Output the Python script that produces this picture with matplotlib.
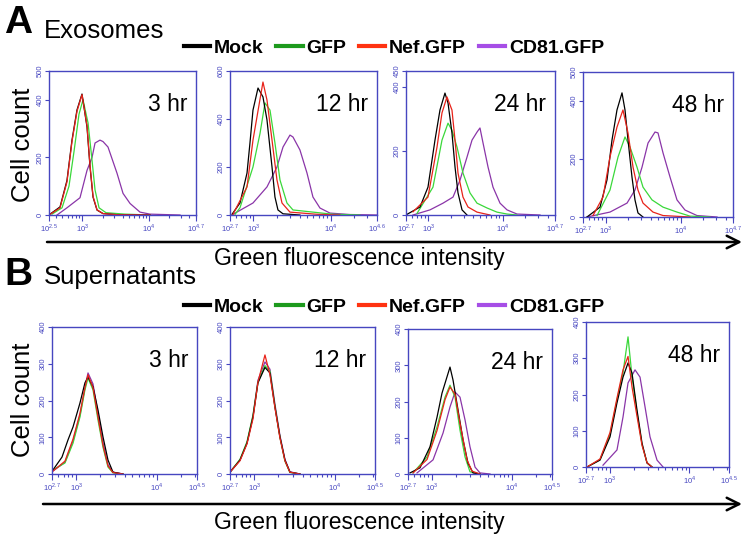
import numpy as np
import matplotlib
matplotlib.use("Agg")
import matplotlib.pyplot as plt
from matplotlib.lines import Line2D
from matplotlib.ticker import FixedLocator, LogLocator, NullFormatter

plt.rcParams["font.family"] = ["Liberation Sans", "DejaVu Sans"]
plt.rcParams["mathtext.fontset"] = "custom"
plt.rcParams["mathtext.rm"] = "Liberation Sans"

# ============================
# data: x = log10 green fluorescence, y = cell count
# ============================
series_names = ["Mock", "GFP", "Nef.GFP", "CD81.GFP"]
time_labels = ["3 hr", "12 hr", "24 hr", "48 hr"]

# --- A. Exosomes ---
exo3_mock_x = [2.515, 2.665, 2.769, 2.844, 2.919, 2.994, 3.069, 3.114, 3.159, 3.219, 3.308, 3.518, 4.012]
exo3_mock_y = [3, 28, 120, 260, 365, 420, 305, 167, 62, 17, 5, 1, 0]
exo3_gfp_x = [2.545, 2.695, 2.799, 2.874, 2.949, 3.009, 3.084, 3.144, 3.189, 3.249, 3.353, 3.638, 4.012]
exo3_gfp_y = [3, 25, 100, 220, 350, 400, 320, 190, 87, 25, 8, 3, 0]
exo3_nef_x = [2.515, 2.665, 2.769, 2.844, 2.919, 2.994, 3.069, 3.114, 3.159, 3.219, 3.308, 3.518, 4.012]
exo3_nef_y = [2, 25, 115, 255, 360, 418, 310, 172, 65, 18, 5, 1, 0]
exo3_cd81_x = [2.62, 2.769, 2.964, 3.069, 3.144, 3.189, 3.263, 3.308, 3.383, 3.518, 3.608, 3.713, 3.862, 4.012, 4.461]
exo3_cd81_y = [0, 25, 60, 155, 200, 250, 260, 255, 236, 145, 75, 40, 10, 3, 0]

exo12_mock_x = [2.726, 2.829, 2.920, 2.958, 2.997, 3.062, 3.126, 3.178, 3.243, 3.281, 3.320, 3.385, 3.604]
exo12_mock_y = [3, 50, 175, 300, 437, 529, 492, 396, 200, 75, 21, 5, 0]
exo12_gfp_x = [2.765, 2.829, 2.997, 3.088, 3.152, 3.217, 3.281, 3.346, 3.436, 3.514, 4.031, 4.38]
exo12_gfp_y = [3, 30, 200, 340, 467, 437, 300, 146, 50, 21, 3, 0]
exo12_nef_x = [2.739, 2.920, 2.997, 3.126, 3.178, 3.243, 3.307, 3.372, 3.475, 3.824, 4.121]
exo12_nef_y = [3, 117, 312, 554, 479, 312, 146, 50, 12, 3, 0]
exo12_cd81_x = [2.739, 2.997, 3.178, 3.307, 3.385, 3.475, 3.514, 3.604, 3.695, 3.772, 3.863, 3.992, 4.25, 4.6]
exo12_cd81_y = [3, 50, 117, 200, 283, 333, 325, 271, 175, 75, 29, 8, 2, 0]

exo24_mock_x = [2.713, 2.888, 2.995, 3.089, 3.156, 3.223, 3.264, 3.317, 3.358, 3.398, 3.452, 3.519]
exo24_mock_y = [2, 25, 87, 234, 328, 381, 350, 256, 150, 69, 16, 0]
exo24_gfp_x = [2.848, 3.062, 3.183, 3.264, 3.317, 3.385, 3.465, 3.559, 3.653, 3.787, 3.921, 4.056, 4.19]
exo24_gfp_y = [5, 87, 234, 287, 265, 212, 131, 69, 37, 22, 9, 3, 0]
exo24_nef_x = [2.794, 2.995, 3.116, 3.183, 3.25, 3.317, 3.358, 3.398, 3.465, 3.532, 3.653, 3.828]
exo24_nef_y = [10, 56, 212, 319, 369, 328, 234, 131, 56, 25, 9, 0]
exo24_cd81_x = [2.794, 3.022, 3.197, 3.331, 3.425, 3.519, 3.586, 3.653, 3.693, 3.734, 3.801, 3.868, 3.962, 4.056, 4.19, 4.499]
exo24_cd81_y = [0, 16, 37, 56, 109, 181, 234, 259, 272, 225, 150, 87, 37, 16, 3, 0]

exo48_mock_x = [2.753, 2.927, 3.02, 3.087, 3.153, 3.22, 3.26, 3.3, 3.353, 3.393, 3.433, 3.5]
exo48_mock_y = [0, 34, 128, 266, 369, 428, 369, 266, 138, 59, 14, 0]
exo48_gfp_x = [2.887, 3.06, 3.167, 3.26, 3.327, 3.42, 3.5, 3.62, 3.767, 3.953, 4.127, 4.393]
exo48_gfp_y = [5, 93, 207, 276, 241, 172, 103, 59, 34, 17, 3, 0]
exo48_nef_x = [2.833, 2.967, 3.06, 3.153, 3.233, 3.3, 3.367, 3.433, 3.5, 3.633, 3.767, 4.127]
exo48_nef_y = [5, 69, 207, 310, 369, 290, 172, 93, 48, 17, 5, 0]
exo48_cd81_x = [2.753, 3.06, 3.287, 3.393, 3.487, 3.567, 3.66, 3.7, 3.767, 3.86, 3.953, 4.06, 4.22, 4.487]
exo48_cd81_y = [0, 17, 48, 93, 172, 255, 293, 290, 221, 138, 59, 24, 5, 0]

# --- B. Supernatants ---
sup3_mock_x = [2.712, 2.824, 2.899, 2.961, 3.047, 3.109, 3.147, 3.209, 3.271, 3.333, 3.395, 3.457, 3.581]
sup3_mock_y = [11, 46, 93, 128, 193, 248, 264, 237, 174, 101, 38, 5, 0]
sup3_gfp_x = [2.712, 2.861, 2.961, 3.047, 3.109, 3.147, 3.209, 3.271, 3.333, 3.395, 3.457, 3.581]
sup3_gfp_y = [11, 30, 84, 155, 229, 261, 229, 147, 73, 19, 3, 0]
sup3_nef_x = [2.712, 2.861, 2.961, 3.047, 3.109, 3.147, 3.209, 3.271, 3.333, 3.395, 3.457, 3.581]
sup3_nef_y = [8, 35, 95, 165, 235, 270, 235, 155, 78, 22, 4, 0]
sup3_cd81_x = [2.712, 2.861, 2.961, 3.047, 3.109, 3.147, 3.209, 3.271, 3.333, 3.395, 3.457, 3.581]
sup3_cd81_y = [8, 32, 90, 160, 235, 275, 245, 165, 85, 25, 5, 0]

sup12_x = [2.7, 2.824, 2.911, 2.985, 3.047, 3.134, 3.196, 3.258, 3.32, 3.382, 3.444, 3.568]
sup12_mock_y = [5, 38, 84, 155, 248, 290, 275, 182, 101, 38, 5, 0]
sup12_gfp_y = [5, 40, 88, 160, 250, 295, 280, 185, 100, 35, 4, 0]
sup12_nef_y = [5, 36, 82, 150, 250, 324, 270, 180, 98, 36, 5, 0]
sup12_cd81_y = [5, 38, 85, 158, 255, 305, 285, 190, 105, 40, 6, 0]

sup24_mock_x = [2.725, 2.85, 2.975, 3.063, 3.125, 3.225, 3.263, 3.325, 3.388, 3.45, 3.513, 3.6]
sup24_mock_y = [3, 17, 75, 157, 223, 295, 259, 177, 94, 30, 3, 0]
sup24_gfp_x = [2.763, 2.938, 3.063, 3.163, 3.225, 3.288, 3.35, 3.413, 3.475, 3.6]
sup24_gfp_y = [3, 47, 130, 212, 245, 212, 121, 47, 6, 0]
sup24_nef_x = [2.763, 2.938, 3.063, 3.163, 3.225, 3.288, 3.35, 3.438, 3.5, 3.6]
sup24_nef_y = [3, 40, 120, 205, 240, 220, 140, 39, 8, 0]
sup24_cd81_x = [2.813, 3.013, 3.138, 3.225, 3.288, 3.35, 3.413, 3.475, 3.538, 3.6, 3.725]
sup24_cd81_y = [3, 39, 113, 185, 226, 212, 149, 75, 19, 3, 0]

sup48_x = [2.713, 2.876, 3.002, 3.09, 3.166, 3.229, 3.279, 3.342, 3.405, 3.468, 3.531]
sup48_mock_y = [0, 19, 83, 177, 248, 287, 259, 157, 66, 11, 0]
sup48_gfp_y = [0, 20, 90, 185, 260, 359, 250, 150, 62, 12, 0]
sup48_nef_y = [0, 22, 95, 190, 268, 305, 221, 140, 60, 12, 0]
sup48_cd81_x = [2.914, 3.09, 3.166, 3.229, 3.317, 3.38, 3.443, 3.506, 3.594, 3.67]
sup48_cd81_y = [5, 47, 138, 232, 268, 248, 166, 83, 19, 0]

# axis ranges (log10) and count maxima
exo_xlims = [(2.5, 4.7), (2.7, 4.6), (2.7, 4.7), (2.7, 4.7)]
exo_ymax = [500, 600, 450, 500]
sup_xlims = [(2.7, 4.5), (2.7, 4.5), (2.7, 4.5), (2.7, 4.5)]
sup_ymax = [400, 400, 400, 400]

exo_curves = [
    [(exo3_mock_x, exo3_mock_y), (exo3_gfp_x, exo3_gfp_y), (exo3_nef_x, exo3_nef_y), (exo3_cd81_x, exo3_cd81_y)],
    [(exo12_mock_x, exo12_mock_y), (exo12_gfp_x, exo12_gfp_y), (exo12_nef_x, exo12_nef_y), (exo12_cd81_x, exo12_cd81_y)],
    [(exo24_mock_x, exo24_mock_y), (exo24_gfp_x, exo24_gfp_y), (exo24_nef_x, exo24_nef_y), (exo24_cd81_x, exo24_cd81_y)],
    [(exo48_mock_x, exo48_mock_y), (exo48_gfp_x, exo48_gfp_y), (exo48_nef_x, exo48_nef_y), (exo48_cd81_x, exo48_cd81_y)],
]
sup_curves = [
    [(sup3_mock_x, sup3_mock_y), (sup3_gfp_x, sup3_gfp_y), (sup3_nef_x, sup3_nef_y), (sup3_cd81_x, sup3_cd81_y)],
    [(sup12_x, sup12_mock_y), (sup12_x, sup12_gfp_y), (sup12_x, sup12_nef_y), (sup12_x, sup12_cd81_y)],
    [(sup24_mock_x, sup24_mock_y), (sup24_gfp_x, sup24_gfp_y), (sup24_nef_x, sup24_nef_y), (sup24_cd81_x, sup24_cd81_y)],
    [(sup48_x, sup48_mock_y), (sup48_x, sup48_gfp_y), (sup48_x, sup48_nef_y), (sup48_cd81_x, sup48_cd81_y)],
]

# ============================
# style
# ============================
line_colors = ["#000000", "#3ad83a", "#e8231a", "#8a35a8"]
legend_colors = ["#000000", "#1d9a1d", "#ff3311", "#a64ee6"]
draw_order = [3, 1, 0, 2]
frame_blue = "#4646c0"

W, H = 748, 538
fig = plt.figure(figsize=(W / 100, H / 100), dpi=100)

exo_boxes = [(49, 71, 196, 215), (230, 71, 377, 215), (406, 71, 555, 215), (583, 72, 733, 217)]
sup_boxes = [(52, 327, 197, 474), (230, 327, 375, 474), (408, 329, 552, 474), (586, 322, 729, 467)]


def fmt_pow(v):
    if abs(v - round(v)) < 1e-6:
        return r"$10^{%d}$" % round(v)
    return r"$10^{%.1f}$" % v


def draw_panel(box, curves, xlim, ymax, label):
    l, t, r, b = box
    ax = fig.add_axes([l / W, 1 - b / H, (r - l) / W, (b - t) / H])
    for k in draw_order:
        xs, ys = curves[k]
        ax.plot(10 ** np.asarray(xs), ys, color=line_colors[k], lw=0.9)
    ax.set_xscale("log")
    ax.set_xlim(10 ** xlim[0], 10 ** xlim[1])
    ax.set_ylim(0, ymax)
    major = [xlim[0], 3, 4, xlim[1]]
    ax.xaxis.set_major_locator(FixedLocator([10 ** v for v in major]))
    ax.set_xticklabels([fmt_pow(v) for v in major])
    ax.xaxis.set_minor_locator(LogLocator(base=10, subs=np.arange(2, 10)))
    ax.xaxis.set_minor_formatter(NullFormatter())
    if ymax == 400:
        yt = [0, 100, 200, 300, 400]
    else:
        yt = [0, 200, 400, ymax]
    ax.set_yticks(yt)
    ax.set_yticklabels([str(v) for v in yt])
    for s in ax.spines.values():
        s.set_color(frame_blue)
        s.set_linewidth(1.0)
    ax.tick_params(axis="both", which="both", colors=frame_blue, labelsize=5.5,
                   direction="out", width=0.8, pad=1)
    ax.tick_params(axis="x", which="major", length=4)
    ax.tick_params(axis="x", which="minor", length=2.5)
    ax.tick_params(axis="y", length=3, labelrotation=90)
    for lab in ax.get_yticklabels():
        lab.set_va("center")
    ax.text(0.94, 0.77, label, transform=ax.transAxes, ha="right", va="center",
            fontsize=16.5)
    return ax


for i in range(4):
    draw_panel(exo_boxes[i], exo_curves[i], exo_xlims[i], exo_ymax[i], time_labels[i])
    draw_panel(sup_boxes[i], sup_curves[i], sup_xlims[i], sup_ymax[i], time_labels[i])

# overlay in pixel coordinates for annotation
ov = fig.add_axes([0, 0, 1, 1])
ov.set_xlim(0, W)
ov.set_ylim(H, 0)
ov.axis("off")

ov.text(4, 33, "A", fontsize=28, fontweight="bold", ha="left", va="baseline")
ov.text(44, 38, "Exosomes", fontsize=18.5, ha="left", va="baseline")
ov.text(4, 285, "B", fontsize=28, fontweight="bold", ha="left", va="baseline")
ov.text(44, 284, "Supernatants", fontsize=18.5, ha="left", va="baseline")

ov.text(23, 145, "Cell count", fontsize=18.5, rotation=90, ha="center", va="center")
ov.text(23, 400, "Cell count", fontsize=18.5, rotation=90, ha="center", va="center")

for y_arrow, y_text, x0 in [(242, 259, 47), (504, 522, 43)]:
    ov.annotate("", xy=(742, y_arrow), xytext=(x0, y_arrow),
                arrowprops=dict(arrowstyle="->,head_length=0.9,head_width=0.45",
                                lw=1.8, color="black", shrinkA=0, shrinkB=0))
    ov.text(359, y_text, "Green fluorescence intensity", fontsize=16.5,
            ha="center", va="center")

handles = [Line2D([], [], color=c, lw=3) for c in legend_colors]
for yc in (48, 307):
    fig.legend(handles, series_names, ncol=4, loc="center",
               bbox_to_anchor=(394 / W, 1 - yc / H), frameon=False,
               prop=dict(weight="bold", size=14), handlelength=1.35,
               handletextpad=0.2, columnspacing=0.65, borderpad=0,
               borderaxespad=0)

plt.savefig("out.png", dpi=100)
